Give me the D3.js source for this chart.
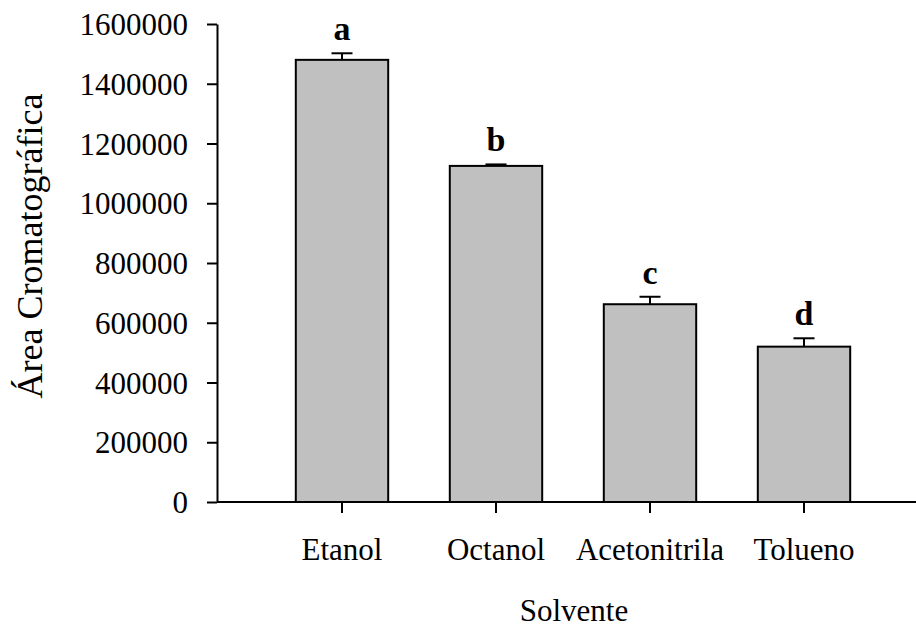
<!DOCTYPE html>
<html>
<head>
<meta charset="utf-8">
<script src="https://cdn.jsdelivr.net/npm/d3@7"></script>
<style>
  html, body { margin: 0; padding: 0; background: #fff; }
  svg { display: block; }
  text { font-family: "Liberation Serif", "Times New Roman", serif; fill: #000; }
</style>
</head>
<body>
<svg id="chart" width="916" height="630"></svg>
<script>
const categories = ["Etanol", "Octanol", "Acetonitrila", "Tolueno"];
const values = [1480000, 1125000, 662000, 520000];
const errors = [22000, 5000, 25000, 28000];
const letters = ["a", "b", "c", "d"];
const yTicks = [0, 200000, 400000, 600000, 800000, 1000000, 1200000, 1400000, 1600000];

const svg = d3.select("#chart");
const axisX = 217, axisY = 502, topY = 24;

const y = d3.scaleLinear().domain([0, 1600000]).range([axisY, topY]);
const x = d3.scaleBand().domain(categories).range([265, 881])
  .paddingInner(0.4).paddingOuter(0.2);

// bars
svg.append("g").selectAll("rect").data(categories).join("rect")
  .attr("x", d => x(d))
  .attr("y", (d, i) => y(values[i]))
  .attr("width", x.bandwidth())
  .attr("height", (d, i) => y(0) - y(values[i]))
  .attr("fill", "#c0c0c0")
  .attr("stroke", "#000")
  .attr("stroke-width", 2);

// error bars
const eg = svg.append("g").attr("stroke", "#000").attr("stroke-width", 2);
categories.forEach((c, i) => {
  const cx = x(c) + x.bandwidth() / 2;
  eg.append("line").attr("x1", cx).attr("x2", cx)
    .attr("y1", y(values[i])).attr("y2", y(values[i] + errors[i]));
  eg.append("line").attr("x1", cx - 10.5).attr("x2", cx + 10.5)
    .attr("y1", y(values[i] + errors[i])).attr("y2", y(values[i] + errors[i]));
});

// letters
svg.append("g").selectAll("text").data(categories).join("text")
  .attr("x", d => x(d) + x.bandwidth() / 2)
  .attr("y", (d, i) => y(values[i] + errors[i]) - 13)
  .attr("text-anchor", "middle")
  .attr("font-weight", "bold")
  .attr("font-size", 34)
  .text((d, i) => letters[i]);

// y axis
const yAxis = svg.append("g").attr("transform", `translate(${axisX},0)`)
  .call(d3.axisLeft(y).tickValues(yTicks).tickFormat(d3.format("d")).tickSize(10).tickPadding(19).tickSizeOuter(0));
yAxis.select(".domain").attr("stroke-width", 2);
yAxis.selectAll(".tick line").attr("stroke-width", 2);
yAxis.selectAll("text").attr("font-size", 31).attr("font-family", "Liberation Serif").attr("dy", "0.34em");

// x axis
const xAxis = svg.append("g").attr("transform", `translate(0,${axisY})`)
  .call(d3.axisBottom(x).tickSize(11).tickPadding(15).tickSizeOuter(0));
xAxis.select(".domain").attr("d", `M${axisX},0H916`).attr("stroke-width", 2);
xAxis.selectAll(".tick line").attr("stroke-width", 2);
xAxis.selectAll("text").attr("font-size", 31).attr("font-family", "Liberation Serif")
  .attr("dy", null).attr("y", 58);

// axis titles
svg.append("text").attr("x", 574).attr("y", 621)
  .attr("text-anchor", "middle").attr("font-size", 31).text("Solvente");
svg.append("text").attr("transform", "translate(42,246) rotate(-90)")
  .attr("text-anchor", "middle").attr("font-size", 36).text("Área Cromatográfica");
</script>
</body>
</html>
